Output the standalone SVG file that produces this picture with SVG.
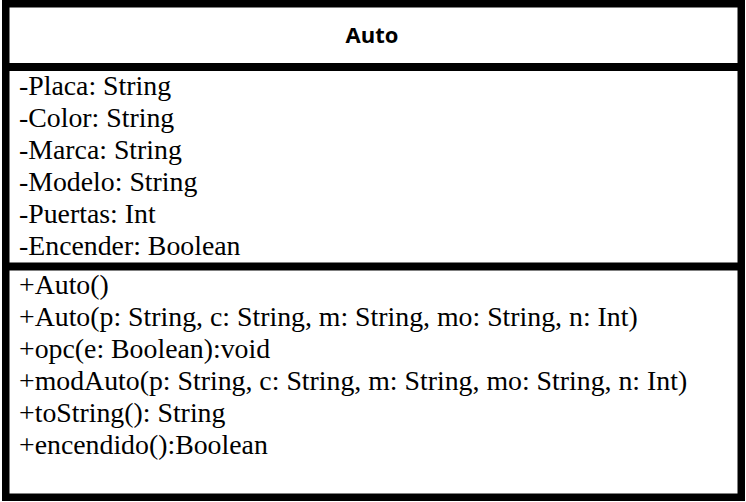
<svg xmlns="http://www.w3.org/2000/svg" width="746" height="502" viewBox="0 0 746 502">
  <style>
    .frame { fill: #ffffff; stroke: #000000; stroke-width: 7.5; }
    .rule { stroke: #000000; stroke-width: 8; }
    .title { font-family: "Open Sans", "Liberation Sans", sans-serif; font-weight: bold; font-size: 22px; fill: #000000; text-anchor: middle; }
    .member { font-family: "Liberation Serif", "Times New Roman", serif; font-size: 27.8px; fill: #000000; }
  </style>
  <rect width="746" height="502" fill="#ffffff"/>
  <g id="class-auto">
    <rect class="frame" x="5.75" y="3.75" width="735.5" height="493.5"/>
    <line class="rule" x1="2" y1="67" x2="745" y2="67"/>
    <line class="rule" x1="2" y1="266.5" x2="745" y2="266.5"/>
    <text class="title" x="372" y="43">Auto</text>
    <g id="attributes">
      <text class="member" x="19" y="95">-Placa: String</text>
      <text class="member" x="19" y="127">-Color: String</text>
      <text class="member" x="19" y="159">-Marca: String</text>
      <text class="member" x="19" y="191">-Modelo: String</text>
      <text class="member" x="19" y="223">-Puertas: Int</text>
      <text class="member" x="19" y="255">-Encender: Boolean</text>
    </g>
    <g id="operations">
      <text class="member" x="19" y="294">+Auto()</text>
      <text class="member" x="19" y="326">+Auto(p: String, c: String, m: String, mo: String, n: Int)</text>
      <text class="member" x="19" y="358">+opc(e: Boolean):void</text>
      <text class="member" x="19" y="390">+modAuto(p: String, c: String, m: String, mo: String, n: Int)</text>
      <text class="member" x="19" y="422">+toString(): String</text>
      <text class="member" x="19" y="454">+encendido():Boolean</text>
    </g>
  </g>
</svg>
